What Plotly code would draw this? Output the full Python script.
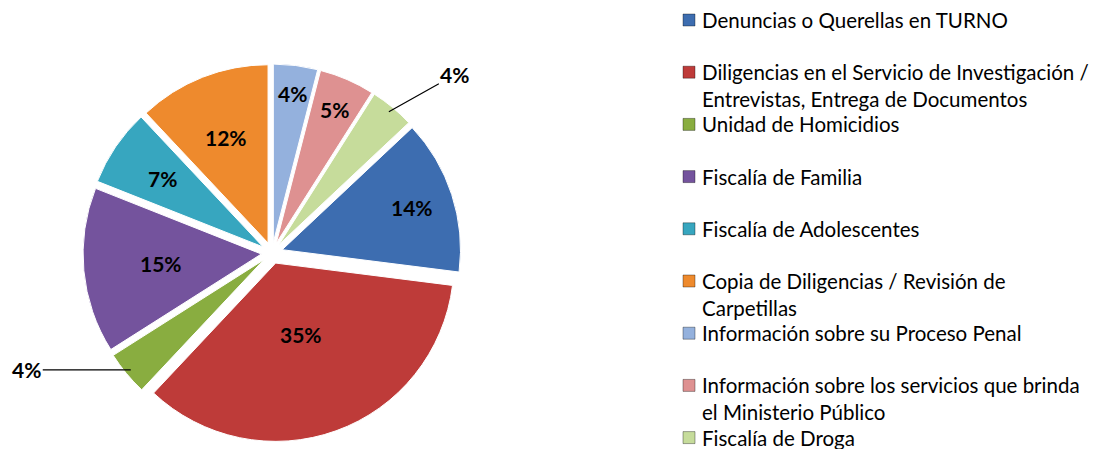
import math
import plotly.graph_objects as go

# ---------------- data ----------------
categories = [
    "Denuncias o Querellas en TURNO",
    "Diligencias en el Servicio de Investigación /\nEntrevistas, Entrega de Documentos",
    "Unidad de Homicidios",
    "Fiscalía de Familia",
    "Fiscalía de Adolescentes",
    "Copia de Diligencias / Revisión de\nCarpetillas",
    "Información sobre su Proceso Penal",
    "Información sobre los servicios que brinda\nel Ministerio Público",
    "Fiscalía de Droga",
]
values = [14, 35, 4, 15, 7, 12, 4, 5, 4]
colors = ["#3D6DB0", "#BE3B39", "#89AD40", "#74539D", "#37A6BF",
          "#EE8A2D", "#94B1DD", "#DE9191", "#C6DC9B"]

# ---------------- geometry / style ----------------
W, H = 1102, 449
OFF = 8                            # page body margin of the html page
cx, cy, Rext = 272 - OFF, 253 - OFF, 189   # pie centre / outer extent (px)
pull = 0.06
rotation = 46.8
# radial position of each value label (fraction of outer radius);
# a tuple means an outside label with leader line: (dx, dy) offset in px
label_pos = [0.78, 0.46, (-104, 0), 0.59, 0.70, 0.66, 0.85, 0.83, (66, -37)]
label_font = dict(family="Lato", size=21, color="black", weight=700)
legend_font = dict(family="Lato", size=20.5, color="black")

total = sum(values)

fig = go.Figure(go.Pie(
    labels=[c.replace("\n", " ") for c in categories],
    values=values,
    textinfo="none",
    marker=dict(colors=colors, line=dict(color="white", width=1)),
    pull=[pull] * len(values),
    sort=False,
    direction="clockwise",
    rotation=rotation,
    showlegend=False,
    hoverinfo="label+percent",
    domain=dict(x=[(cx - Rext) / W, (cx + Rext) / W],
                y=[1 - (cy + Rext) / H, 1 - (cy - Rext) / H]),
))

annotations = []
shapes = []

# value labels, positioned from the slice angles computed from the data
cum = 0
for v, pos in zip(values, label_pos):
    mid = math.radians(rotation + 360 * (cum + v / 2) / total)
    s, c = math.sin(mid), -math.cos(mid)
    if isinstance(pos, tuple):
        px, py = cx + Rext * 0.97 * s, cy + Rext * 0.97 * c
        annotations.append(dict(
            x=px / W, y=1 - py / H, xref="paper", yref="paper",
            text=f"{v}%", font=label_font, showarrow=True, arrowhead=0,
            arrowwidth=1.2, arrowcolor="black", ax=pos[0], ay=pos[1], standoff=0,
            xanchor="center", yanchor="middle",
        ))
    else:
        px, py = cx + Rext * pos * s, cy + Rext * pos * c
        annotations.append(dict(
            x=px / W, y=1 - py / H, xref="paper", yref="paper",
            text=f"{v}%", font=label_font, showarrow=False,
            xanchor="center", yanchor="middle",
        ))
    cum += v

# custom legend
slot0, slot_gap, line_gap = 20 - OFF, 52.2, 27
mx0 = 683 - OFF
for i, (cat, col) in enumerate(zip(categories, colors)):
    yc = slot0 + i * slot_gap
    shapes.append(dict(type="rect", xref="paper", yref="paper",
                       x0=mx0 / W, x1=(mx0 + 12) / W,
                       y0=1 - (yc + 6) / H, y1=1 - (yc - 6) / H,
                       fillcolor=col, line=dict(color="rgba(0,0,0,0.35)", width=1)))
    for k, line in enumerate(cat.split("\n")):
        annotations.append(dict(
            x=(mx0 + 17) / W, y=1 - (yc + k * line_gap) / H, xref="paper", yref="paper",
            text=line, font=legend_font, showarrow=False,
            xanchor="left", yanchor="middle",
        ))

fig.update_layout(
    width=W, height=H,
    margin=dict(l=0, r=0, t=0, b=0),
    paper_bgcolor="white",
    plot_bgcolor="white",
    annotations=annotations,
    shapes=shapes,
)

fig.write_html("out.html")
